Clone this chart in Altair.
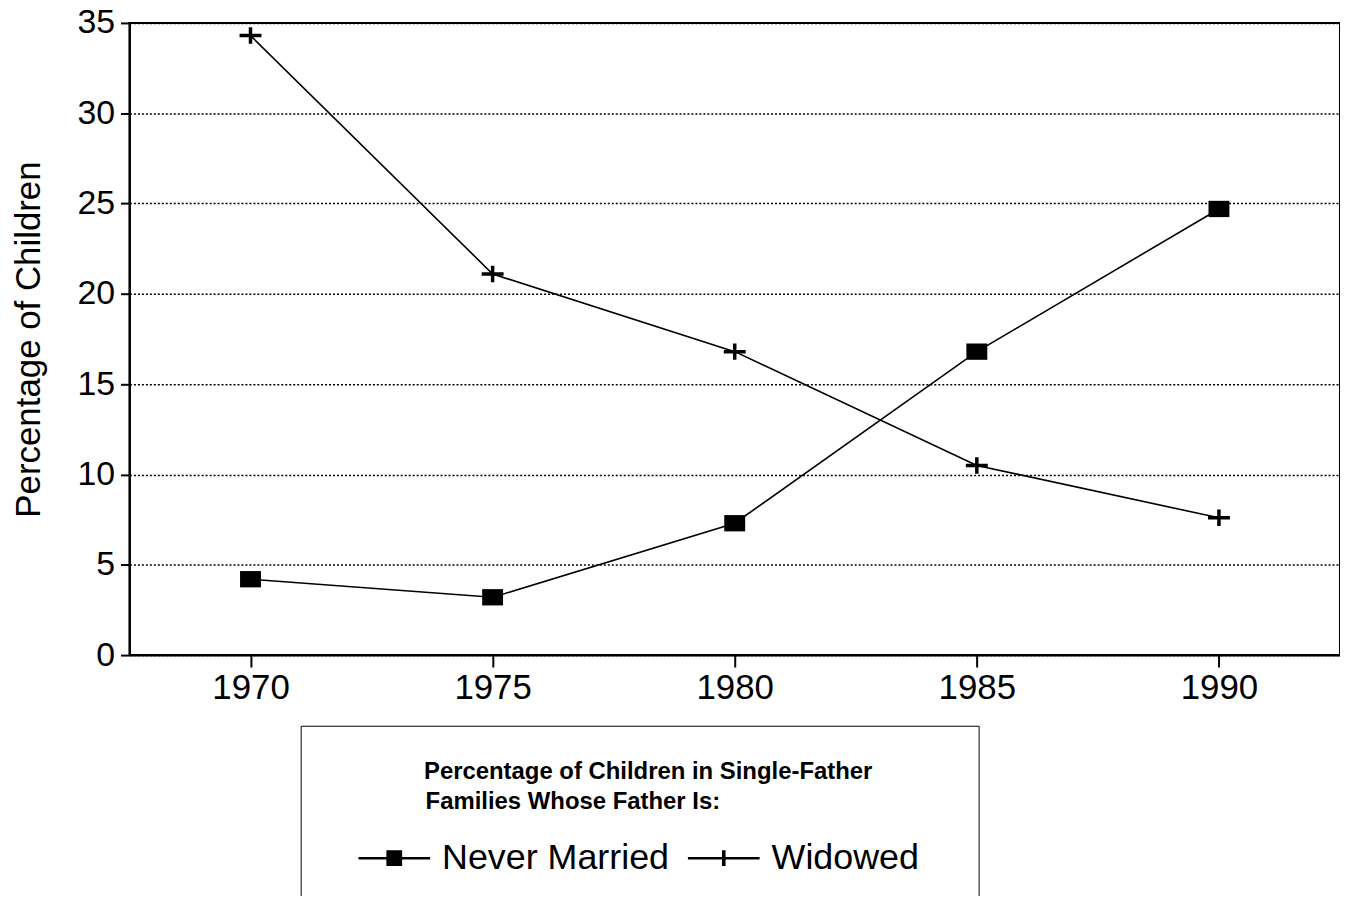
import altair as alt
import pandas as pd

years = [1970, 1975, 1980, 1985, 1990]
never_married = [4.2, 3.2, 7.3, 16.8, 24.7]
widowed = [34.3, 21.1, 16.8, 10.5, 7.6]
series_names = ["Never Married", "Widowed"]
x_ticks = [1970, 1975, 1980, 1985, 1990]
y_ticks = [0, 5, 10, 15, 20, 25, 30, 35]

rows = []
for i, yr in enumerate(years):
    rows.append({"year": yr, "value": never_married[i], "series": "Never Married"})
    rows.append({"year": yr, "value": widowed[i], "series": "Widowed"})
df = pd.DataFrame(rows)

FONT = "Liberation Sans"
BL = "\u2800"

x_enc = alt.X(
    "year:Q",
    scale=alt.Scale(domain=[1967.5, 1992.5], nice=False, zero=False),
    axis=alt.Axis(
        values=x_ticks, format="d", title=None, grid=False,
        labelFont=FONT, labelFontSize=35, labelColor="black",
        tickColor="black", tickSize=12, tickWidth=2,
        domainColor="black", domainWidth=2, labelPadding=4,
    ),
)
y_enc = alt.Y(
    "value:Q",
    scale=alt.Scale(domain=[0, 35], nice=False, zero=True),
    axis=alt.Axis(
        values=y_ticks, title="Percentage of Children",
        grid=True, gridColor="black", gridDash=[2, 2], gridWidth=1.5, gridOpacity=1,
        labelFont=FONT, labelFontSize=34, labelColor="black", labelPadding=6,
        tickColor="black", tickSize=9, tickWidth=2,
        domainColor="black", domainWidth=2,
        titleFont=FONT, titleFontSize=35, titleFontWeight="normal", titleColor="black",
        titleAngle=270, titleBaseline="bottom", titleX=-83,
    ),
)

lines = alt.Chart(df).mark_line(color="black", strokeWidth=1.6).encode(
    x=x_enc, y=y_enc, detail="series:N"
)

squares = alt.Chart(df).transform_filter(
    alt.datum.series == "Never Married"
).mark_point(
    shape="M-1,-0.78H1V0.78H-1Z", size=441, filled=True, fill="black", opacity=1
).encode(x=x_enc, y=y_enc)

pluses = alt.Chart(df).transform_filter(
    alt.datum.series == "Widowed"
).mark_point(
    shape="M-1,0H1M0,-0.75V0.75", size=484, filled=False, stroke="black",
    strokeWidth=3.5, opacity=1
).encode(x=x_enc, y=y_enc)

legend_paths = [
    "M-1,-0.035H1V0.035H-1Z M-0.22,-0.22H0.22V0.22H-0.22Z",
    "M-1,-0.035H1V0.035H-1Z M-0.05,-0.22H0.05V0.22H-0.05Z",
]

legend_title = [
    BL * 5 + "Percentage of Children in Single-Father" + BL * 4,
    BL * 5 + "Families Whose Father Is:" + " " + BL * 12,
]

legend_layer = alt.Chart(df).transform_filter("false").mark_point(
    filled=True, fill="black", opacity=1
).encode(
    x=x_enc, y=y_enc,
    shape=alt.Shape(
        "series:N",
        scale=alt.Scale(domain=series_names, range=legend_paths),
        legend=alt.Legend(
            title=legend_title,
            orient="none", legendX=172, legendY=706,
            direction="horizontal",
            strokeColor="black", fillColor="white", padding=34,
            titleFont=FONT, titleFontSize=24, titleFontWeight="bold",
            titleColor="black", titleAnchor="middle", titleAlign="center",
            titleLineHeight=31, titlePadding=8, titleLimit=2000,
            labelFont=FONT, labelFontSize=36, labelColor="black",
            labelOffset=12, columnPadding=18, labelLimit=2000,
            symbolSize=72 * 72, symbolStrokeWidth=0,
            symbolFillColor="black",
        ),
    ),
)

chart = alt.layer(lines, squares, pluses, legend_layer).properties(
    width=1216,
    height=635,
    background="white",
    autosize=alt.AutoSizeParams(type="none"),
    padding={"left": 122, "top": 13, "right": 0, "bottom": 240},
).configure_view(stroke="black", strokeWidth=2)

chart.save("out.html", embed_options={"renderer": "svg", "actions": False})
